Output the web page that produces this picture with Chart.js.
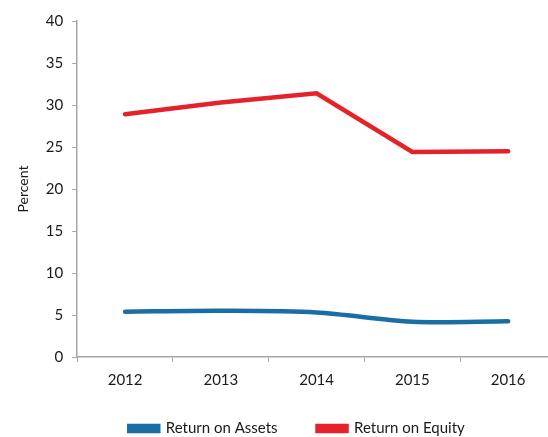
<!DOCTYPE html>
<html>
<head>
<meta charset="utf-8">
<script src="https://cdn.jsdelivr.net/npm/chart.js@4"></script>
<style>
  html, body { margin: 0; padding: 0; background: #fff; overflow: hidden; }
  #wrap { width: 594px; height: 444px; position: relative; }
</style>
</head>
<body>
<div id="wrap"><canvas id="chart"></canvas></div>
<script>
// 資料
const years = ['2012', '2013', '2014', '2015', '2016'];
const returnOnAssets = [5.4, 5.5, 5.3, 4.2, 4.25];
const returnOnEquity = [28.9, 30.3, 31.4, 24.4, 24.5];
const yTicks = [0, 5, 10, 15, 20, 25, 30, 35, 40];

const axisColor = '#a6a6a6';
const fontFamily = 'Lato, "Open Sans", sans-serif';

// 微調圖例位置 (向右、向上)；bottom 不動，避免文字被裁切
const legendShift = {
  id: 'legendShift',
  afterLayout(chart) {
    const lg = chart.legend;
    if (!lg) return;
    lg.left += 18;
    lg.right += 18;
    lg.top -= 13;
  }
};

new Chart(document.getElementById('chart'), {
  type: 'line',
  data: {
    labels: years,
    datasets: [
      {
        label: 'Return on Assets',
        data: returnOnAssets,
        borderColor: '#1b6ea5',
        backgroundColor: '#1b6ea5',
        borderWidth: 4.5,
        tension: 0.3,
        pointRadius: 0,
        borderCapStyle: 'round',
      },
      {
        label: 'Return on Equity',
        data: returnOnEquity,
        borderColor: '#e52129',
        backgroundColor: '#e52129',
        borderWidth: 4.5,
        tension: 0,
        pointRadius: 0,
        borderCapStyle: 'round',
      },
    ],
  },
  options: {
    responsive: true,
    maintainAspectRatio: false,
    animation: false,
    layout: { padding: { left: 2, right: 38, top: 21, bottom: 0 } },
    plugins: {
      tooltip: { enabled: false },
      legend: {
        position: 'bottom',
        maxHeight: 50,
        labels: {
          boxWidth: 29,
          boxHeight: 5,
          padding: 40,
          color: '#1a1a1a',
          font: { family: fontFamily, size: 15 },
        },
      },
    },
    scales: {
      x: {
        offset: true,
        afterFit: scale => { scale.height -= 4; },
        grid: {
          offset: true,
          drawOnChartArea: false,
          color: axisColor,
          tickLength: 5,
        },
        border: { color: axisColor, width: 1.5 },
        ticks: {
          color: '#1a1a1a',
          font: { family: fontFamily, size: 15 },
          padding: 9,
        },
      },
      y: {
        min: 0,
        max: 40,
        afterBuildTicks: axis => {
          axis.ticks = yTicks.map(v => ({ value: v }));
        },
        grid: {
          drawOnChartArea: false,
          color: axisColor,
          tickLength: 5,
        },
        border: { color: axisColor, width: 1.5 },
        ticks: {
          color: '#1a1a1a',
          font: { family: fontFamily, size: 15 },
          padding: 9,
        },
        title: {
          display: true,
          text: 'Percent',
          color: '#1a1a1a',
          font: { family: fontFamily, size: 14 },
          padding: { top: 13, bottom: 5 },
        },
      },
    },
  },
  plugins: [legendShift],
});
</script>
</body>
</html>
